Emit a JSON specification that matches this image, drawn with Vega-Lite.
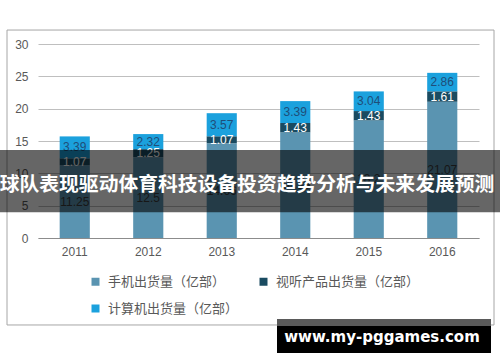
{
  "$schema": "https://vega.github.io/schema/vega-lite/v6.json",
  "width": 441,
  "height": 194,
  "autosize": {"type": "none"},
  "padding": {"left": 38, "top": 44, "right": 21, "bottom": 124},
  "background": "#ffffff",
  "config": {"view": {"stroke": null}, "font": "Liberation Sans"},
  "data": {
    "values": [
      {"year": "2011", "series": "手机出货量（亿部）", "value": 11.25},
      {"year": "2011", "series": "视听产品出货量（亿部）", "value": 1.07},
      {"year": "2011", "series": "计算机出货量（亿部）", "value": 3.39},
      {"year": "2012", "series": "手机出货量（亿部）", "value": 12.5},
      {"year": "2012", "series": "视听产品出货量（亿部）", "value": 1.25},
      {"year": "2012", "series": "计算机出货量（亿部）", "value": 2.32},
      {"year": "2013", "series": "手机出货量（亿部）", "value": 14.66},
      {"year": "2013", "series": "视听产品出货量（亿部）", "value": 1.07},
      {"year": "2013", "series": "计算机出货量（亿部）", "value": 3.57},
      {"year": "2014", "series": "手机出货量（亿部）", "value": 16.35},
      {"year": "2014", "series": "视听产品出货量（亿部）", "value": 1.43},
      {"year": "2014", "series": "计算机出货量（亿部）", "value": 3.39},
      {"year": "2015", "series": "手机出货量（亿部）", "value": 18.2},
      {"year": "2015", "series": "视听产品出货量（亿部）", "value": 1.43},
      {"year": "2015", "series": "计算机出货量（亿部）", "value": 3.04},
      {"year": "2016", "series": "手机出货量（亿部）", "value": 21.07},
      {"year": "2016", "series": "视听产品出货量（亿部）", "value": 1.61},
      {"year": "2016", "series": "计算机出货量（亿部）", "value": 2.86}
    ]
  },
  "layer": [
    {
      "data": {"values": [{}]},
      "mark": {"type": "rect", "fill": "transparent", "stroke": "#a6a6a6", "strokeWidth": 1},
      "encoding": {
        "x": {"value": -31},
        "x2": {"value": 456},
        "y": {"datum": 32.16, "type": "quantitative", "title": null, "axis": {"title": null, "values": [0, 5, 10, 15, 20, 25, 30], "ticks": false, "domain": false, "grid": true, "gridColor": "#bfbfbf", "labelColor": "#595959", "labelFontSize": 12, "labelPadding": 10, "labelFont": "Liberation Sans", "labelOverlap": false}},
        "y2": {"datum": -13.45}
      }
    },
    {
      "transform": [
        {"stack": "value", "groupby": ["year"], "sort": [{"field": "series", "order": "ascending"}], "as": ["y0", "y1"]}
      ],
      "mark": {"type": "bar"},
      "encoding": {
        "x": {
          "field": "year", "type": "nominal",
          "scale": {"paddingInner": 0.59, "paddingOuter": 0.295},
          "axis": {"title": null, "labelAngle": 0, "ticks": false, "domain": true, "domainColor": "#8c8c8c", "labelColor": "#595959", "labelFontSize": 12, "labelPadding": 8, "labelFont": "Liberation Sans"}
        },
        "y": {
          "field": "y1", "type": "quantitative", "title": null,
          "scale": {"domain": [0, 30], "nice": false},
          "axis": {"title": null, "values": [0, 5, 10, 15, 20, 25, 30], "ticks": false, "domain": false, "grid": true, "gridColor": "#bfbfbf", "labelColor": "#595959", "labelFontSize": 12, "labelPadding": 10, "labelFont": "Liberation Sans", "labelOverlap": false}
        },
        "y2": {"field": "y0"},
        "color": {
          "field": "series", "type": "nominal",
          "scale": {"domain": ["手机出货量（亿部）", "视听产品出货量（亿部）", "计算机出货量（亿部）"], "range": ["#5a94b1", "#1a4b61", "#1ba1dd"]},
          "legend": {"title": null, "orient": "none", "legendX": 51, "legendY": 231, "direction": "horizontal", "columns": 2, "columnPadding": 18, "rowPadding": 13, "symbolType": "square", "symbolSize": 64, "symbolStrokeWidth": 0, "labelFont": "Noto Sans CJK SC", "labelFontSize": 13, "labelColor": "#595959", "labelOffset": 6, "padding": 0}
        }
      }
    },
    {
      "transform": [
        {"stack": "value", "groupby": ["year"], "sort": [{"field": "series", "order": "ascending"}], "as": ["y0", "y1"]},
        {"fold": ["y0", "y1"], "as": ["k", "pos"]}
      ],
      "mark": {"type": "text", "fontSize": 12, "font": "Liberation Sans", "baseline": "middle", "align": "center"},
      "encoding": {
        "x": {"field": "year", "type": "nominal"},
        "y": {"field": "pos", "type": "quantitative", "aggregate": "mean", "title": null, "axis": {"title": null, "values": [0, 5, 10, 15, 20, 25, 30], "ticks": false, "domain": false, "grid": true, "gridColor": "#bfbfbf", "labelColor": "#595959", "labelFontSize": 12, "labelPadding": 10, "labelFont": "Liberation Sans", "labelOverlap": false}},
        "text": {"field": "value", "type": "quantitative"},
        "color": {
          "field": "series", "type": "nominal",
          "scale": {"domain": ["手机出货量（亿部）", "视听产品出货量（亿部）", "计算机出货量（亿部）"], "range": ["#3a3a3a", "#ffffff", "#1f4e79"]},
          "legend": null
        }
      }
    },
    {
      "data": {"values": [{}]},
      "mark": {"type": "rect", "fill": "#000000", "fillOpacity": 0.6},
      "encoding": {
        "x": {"value": -38},
        "x2": {"value": 462},
        "y": {"datum": 13.6, "type": "quantitative", "title": null, "axis": {"title": null, "values": [0, 5, 10, 15, 20, 25, 30], "ticks": false, "domain": false, "grid": true, "gridColor": "#bfbfbf", "labelColor": "#595959", "labelFontSize": 12, "labelPadding": 10, "labelFont": "Liberation Sans", "labelOverlap": false}},
        "y2": {"datum": 4}
      }
    },
    {
      "data": {"values": [{}]},
      "mark": {"type": "text", "text": "球队表现驱动体育科技设备投资趋势分析与未来发展预测", "font": "Noto Sans CJK SC", "fontSize": 19.8, "fontWeight": "bold", "color": "#ffffff", "align": "center", "baseline": "middle"},
      "encoding": {
        "x": {"value": 209},
        "y": {"datum": 8.2, "type": "quantitative", "title": null, "axis": {"title": null, "values": [0, 5, 10, 15, 20, 25, 30], "ticks": false, "domain": false, "grid": true, "gridColor": "#bfbfbf", "labelColor": "#595959", "labelFontSize": 12, "labelPadding": 10, "labelFont": "Liberation Sans", "labelOverlap": false}}
      }
    },
    {
      "data": {"values": [{}]},
      "mark": {"type": "rect", "fill": "#5a5a5a"},
      "encoding": {
        "x": {"value": 239},
        "x2": {"value": 453},
        "y": {"datum": -12.53, "type": "quantitative", "title": null, "axis": {"title": null, "values": [0, 5, 10, 15, 20, 25, 30], "ticks": false, "domain": false, "grid": true, "gridColor": "#bfbfbf", "labelColor": "#595959", "labelFontSize": 12, "labelPadding": 10, "labelFont": "Liberation Sans", "labelOverlap": false}},
        "y2": {"datum": -13.61}
      }
    },
    {
      "data": {"values": [{}]},
      "mark": {"type": "rect", "fill": "#000000"},
      "encoding": {
        "x": {"value": 239},
        "x2": {"value": 453},
        "y": {"datum": -13.61, "type": "quantitative", "title": null, "axis": {"title": null, "values": [0, 5, 10, 15, 20, 25, 30], "ticks": false, "domain": false, "grid": true, "gridColor": "#bfbfbf", "labelColor": "#595959", "labelFontSize": 12, "labelPadding": 10, "labelFont": "Liberation Sans", "labelOverlap": false}},
        "y2": {"datum": -17.78}
      }
    },
    {
      "data": {"values": [{}]},
      "mark": {"type": "text", "text": "www.my-pggames.com", "font": "DejaVu Sans", "fontSize": 15, "fontWeight": "bold", "color": "#ffffff", "align": "center", "baseline": "middle"},
      "encoding": {
        "x": {"value": 344},
        "y": {"datum": -15.31, "type": "quantitative", "title": null, "axis": {"title": null, "values": [0, 5, 10, 15, 20, 25, 30], "ticks": false, "domain": false, "grid": true, "gridColor": "#bfbfbf", "labelColor": "#595959", "labelFontSize": 12, "labelPadding": 10, "labelFont": "Liberation Sans", "labelOverlap": false}}
      }
    }
  ],
  "resolve": {"scale": {"color": "independent"}}
}
